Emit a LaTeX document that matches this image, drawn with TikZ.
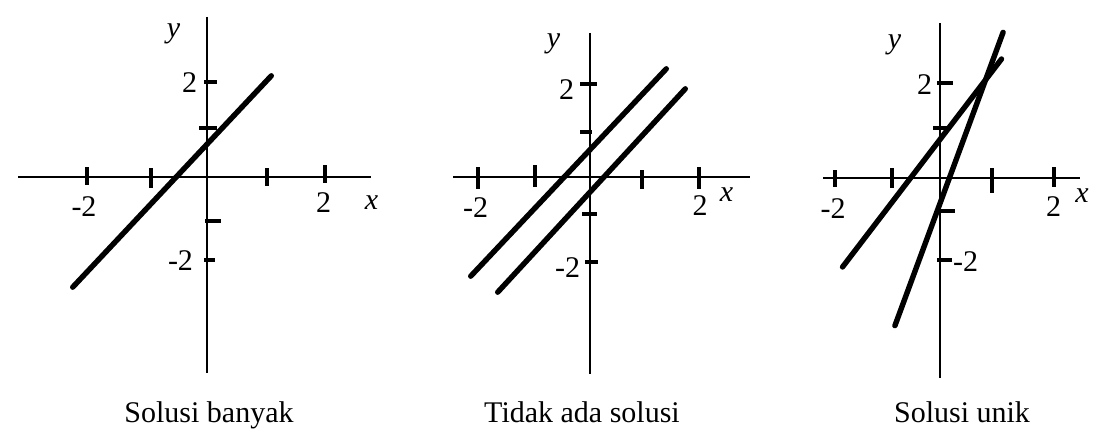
\documentclass[tikz,border=0pt]{standalone}
\usepackage{fontspec}
\setmainfont{Liberation Serif}
\usepackage{xcolor}
\definecolor{ink}{HTML}{000000}
\tikzset{
  axisline/.style={ink, line width=0.9pt},
  tickmark/.style={ink, line width=1.6pt},
  solline/.style={ink, line width=2.7pt, line cap=round},
  lbl/.style={inner sep=0pt, font=\fontsize{15}{18}\selectfont},
  caption/.style={inner sep=0pt, anchor=base, font=\fontsize{15}{18}\selectfont},
}
\begin{document}
\begin{tikzpicture}[x=0.5pt, y=-0.5pt]
\useasboundingbox (0,0) rectangle (1117,444);
% Solusi banyak
\draw[axisline] (18,177) -- (371,177);
\draw[axisline] (207,17) -- (207,373);
\foreach \tx/\ya/\yb in {87/167/185, 151/168/188, 267/168/186, 325/165/183}
  \draw[tickmark] (\tx,\ya) -- (\tx,\yb);
\foreach \ty/\xa/\xb in {82/204/217, 128/199/217, 221/205/221, 260/204/215}
  \draw[tickmark] (\xa,\ty) -- (\xb,\ty);
\draw[solline] (72.7,287.2) -- (271.3,75.8);
\node[lbl] (ay) at (173.5,34) {\textit{y}};
\node[lbl] (ax) at (371.5,203) {\textit{x}};
\node[lbl] (ay2) at (189.5,82.5) {2};
\node[lbl] (aym2) at (180.5,260.5) {-2};
\node[lbl] (axm2) at (84,207) {-2};
\node[lbl] (ax2) at (323.5,202.5) {2};
\node[caption] (acap) at (209,422) {Solusi banyak};
% Tidak ada solusi
\draw[axisline] (453,177) -- (750,177);
\draw[axisline] (590,33) -- (590,374);
\foreach \tx/\ya/\yb in {478/167/189, 535/165/187, 642/170/189, 699/167/189}
  \draw[tickmark] (\tx,\ya) -- (\tx,\yb);
\foreach \ty/\xa/\xb in {84/580/597, 132/580/592, 214/582/597, 262/585/598}
  \draw[tickmark] (\xa,\ty) -- (\xb,\ty);
\draw[solline] (470.7,276.2) -- (666.3,68.8);
\draw[solline] (497.7,292.2) -- (685.3,88.8);
\node[lbl] (by) at (553.5,44) {\textit{y}};
\node[lbl] (bx) at (726.5,195) {\textit{x}};
\node[lbl] (by2) at (566.5,90) {2};
\node[lbl] (bym2) at (567.5,268) {-2};
\node[lbl] (bxm2) at (475.5,207.5) {-2};
\node[lbl] (bx2) at (700,206) {2};
\node[caption] (bcap) at (582,422) {Tidak ada solusi};
% Solusi unik
\draw[axisline] (823,178) -- (1080,178);
\draw[axisline] (940,23) -- (940,378);
\foreach \tx/\ya/\yb in {835/170/187, 892/168/188, 992/168/193, 1054/167/187}
  \draw[tickmark] (\tx,\ya) -- (\tx,\yb);
\foreach \ty/\xa/\xb in {83/937/953, 128/933/947, 211/937/955, 260/937/952}
  \draw[tickmark] (\xa,\ty) -- (\xb,\ty);
\draw[solline] (842.5,267) -- (1001.5,59);
\draw[solline] (894.9,325.7) -- (1003.1,32.3);
\node[lbl] (cy) at (894.5,45) {\textit{y}};
\node[lbl] (cx) at (1082,196) {\textit{x}};
\node[lbl] (cy2) at (924.5,85) {2};
\node[lbl] (cym2) at (965.5,261.5) {-2};
\node[lbl] (cxm2) at (833,208.5) {-2};
\node[lbl] (cx2) at (1053.5,206.5) {2};
\node[caption] (ccap) at (962,422) {Solusi unik};
\end{tikzpicture}
\end{document}
